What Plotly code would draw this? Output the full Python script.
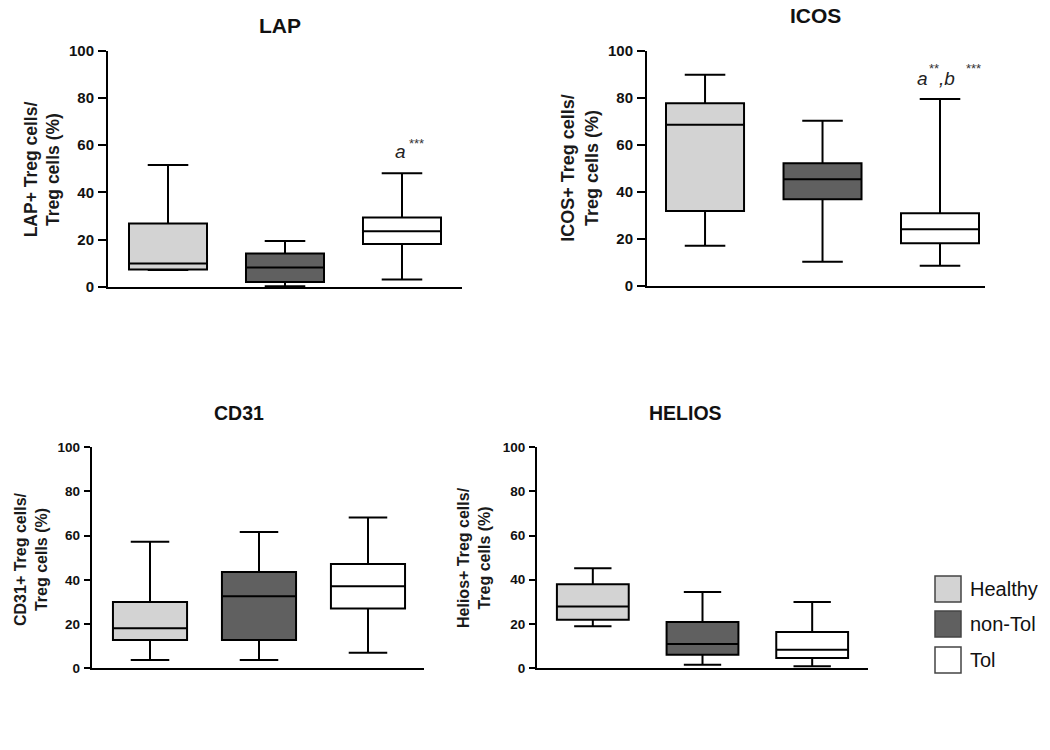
import plotly.graph_objects as go

# ---------------- data ----------------
groups = ["Healthy", "non-Tol", "Tol"]
group_colors = ["#d3d3d3", "#606060", "#ffffff"]

panels = ["LAP", "ICOS", "CD31", "HELIOS"]
y_titles = ["LAP+ Treg cells/<br>Treg cells (%)",
            "ICOS+ Treg cells/<br>Treg cells (%)",
            "CD31+ Treg cells/<br>Treg cells (%)",
            "Helios+ Treg cells/<br>Treg cells (%)"]
y_ticks = [0, 20, 40, 60, 80, 100]

lap_min = [7.2, 0.3, 3.1]
lap_q1 = [7.4, 2.1, 18.2]
lap_med = [9.9, 8.2, 23.6]
lap_q3 = [26.9, 14.1, 29.4]
lap_max = [51.6, 19.4, 48.1]

icos_min = [17.0, 10.2, 8.5]
icos_q1 = [31.8, 36.8, 18.0]
icos_med = [68.5, 45.3, 24.0]
icos_q3 = [77.7, 52.1, 30.8]
icos_max = [89.8, 70.2, 79.5]

cd31_min = [3.8, 3.8, 7.1]
cd31_q1 = [12.8, 12.8, 27.1]
cd31_med = [18.1, 32.6, 37.1]
cd31_q3 = [30.0, 43.6, 47.2]
cd31_max = [57.2, 61.7, 68.2]

helios_min = [18.9, 1.5, 0.75]
helios_q1 = [21.9, 6.0, 4.5]
helios_med = [27.9, 10.9, 8.3]
helios_q3 = [38.0, 20.8, 16.3]
helios_max = [45.2, 34.4, 29.9]

# significance marks of the Tol group (LAP, ICOS)
sig_letters = ["<i>a</i>", "<i>a</i>", "<i>,b</i>"]
sig_stars = ["***", "**", "***"]

stats = [
    (lap_min, lap_q1, lap_med, lap_q3, lap_max),
    (icos_min, icos_q1, icos_med, icos_q3, icos_max),
    (cd31_min, cd31_q1, cd31_med, cd31_q3, cd31_max),
    (helios_min, helios_q1, helios_med, helios_q3, helios_max),
]

# ---------------- layout geometry (target pixels on the 1050x750 picture) ----
W, H = 1050, 750


def px_x(x):
    return x / W


def px_y(t):
    # the captured page is slightly compressed vertically; compensate
    return 1 - ((t - 9.2) / 0.977) / H


# (x_left, x_right, y_top, y_bottom) of each plotting area
areas = [(108, 462, 51, 287), (647, 985, 51, 285.7),
         (91.7, 424, 447.3, 668.3), (537, 868, 447.3, 668)]
x_ranges = [[-0.513, 2.513], [-0.494, 2.383], [-0.535, 2.514], [-0.509, 2.509]]
box_widths = [0.667, 0.664, 0.68, 0.655]
title_pos = [(280, 26, 21), (815, 16, 21), (239, 413, 19.5), (685, 413, 19.5)]
ytitle_pos = [(42.5, 170, 17.5), (580, 168, 18), (31, 559, 16), (474, 557, 16)]
tick_font = [15, 15, 13.5, 13.5]
tick_len = [8, 8, 6, 6]
letter_pos = [(400, 152), (922.5, 78.5), (946.5, 78.5)]
star_pos = [(416.5, 144), (933.5, 68.5), (973.5, 68.5)]

FONT = "Liberation Sans, Arial, sans-serif"

fig = go.Figure()
layout = dict(
    width=W, height=H,
    margin=dict(l=0, r=0, t=0, b=0),
    paper_bgcolor="white", plot_bgcolor="white",
    showlegend=False,
    font=dict(family=FONT, color="#111"),
)
annotations = []
shapes = []

for p, name in enumerate(panels):
    xl, xr, yt, yb = areas[p]
    sfx = "" if p == 0 else str(p + 1)
    mn, q1, md, q3, mx = stats[p]
    for g in range(len(groups)):
        fig.add_trace(go.Box(
            x=[g], q1=[q1[g]], median=[md[g]], q3=[q3[g]],
            lowerfence=[mn[g]], upperfence=[mx[g]],
            width=box_widths[p], whiskerwidth=0.52,
            fillcolor=group_colors[g],
            line=dict(color="black", width=2),
            boxpoints=False, name=groups[g], hoverinfo="skip",
            xaxis="x" + sfx, yaxis="y" + sfx,
        ))
    layout["xaxis" + sfx] = dict(
        domain=[px_x(xl), px_x(xr)], range=x_ranges[p],
        anchor="y" + sfx, showgrid=False, zeroline=False,
        showticklabels=False, ticks="", showline=True,
        linecolor="black", linewidth=2, fixedrange=True,
    )
    layout["yaxis" + sfx] = dict(
        domain=[px_y(yb), px_y(yt)], range=[0, 100],
        anchor="x" + sfx, showgrid=False, zeroline=False,
        tickvals=y_ticks, ticks="outside", ticklen=tick_len[p],
        tickwidth=2, tickcolor="black", showline=True,
        linecolor="black", linewidth=2,
        tickfont=dict(family=FONT, size=tick_font[p], color="#111",
                      weight="bold"),
        ticklabelstandoff=1, fixedrange=True,
    )
    tx, ty, ts = title_pos[p]
    annotations.append(dict(
        text="<b>" + name + "</b>", x=px_x(tx), y=px_y(ty),
        xref="paper", yref="paper", xanchor="center", yanchor="middle",
        showarrow=False, font=dict(family=FONT, size=ts, color="#111"),
    ))
    ax, ay, asz = ytitle_pos[p]
    annotations.append(dict(
        text=y_titles[p], x=px_x(ax), y=px_y(ay), textangle=-90,
        xref="paper", yref="paper", xanchor="center", yanchor="middle",
        showarrow=False,
        font=dict(family=FONT, size=asz, color="#1a1a1a", weight="bold"),
    ))

# significance labels
for i in range(len(sig_letters)):
    lx, ly = letter_pos[i]
    annotations.append(dict(
        text=sig_letters[i], x=px_x(lx), y=px_y(ly),
        xref="paper", yref="paper", xanchor="center", yanchor="middle",
        showarrow=False, font=dict(family=FONT, size=19, color="#222"),
    ))
    sx, sy = star_pos[i]
    annotations.append(dict(
        text=sig_stars[i], x=px_x(sx), y=px_y(sy),
        xref="paper", yref="paper", xanchor="center", yanchor="middle",
        showarrow=False, font=dict(family=FONT, size=13, color="#333"),
    ))

# legend (squares + labels)
leg_tops = [576, 611, 647]
for g in range(len(groups)):
    top = leg_tops[g]
    shapes.append(dict(
        type="rect", xref="paper", yref="paper",
        x0=px_x(935), x1=px_x(961), y0=px_y(top + 26), y1=px_y(top),
        fillcolor=group_colors[g], line=dict(color="#444", width=1.5),
    ))
    annotations.append(dict(
        text=groups[g], x=px_x(968), y=px_y(top + 13),
        xref="paper", yref="paper", xanchor="left", yanchor="middle",
        showarrow=False, font=dict(family=FONT, size=20, color="#111"),
    ))

layout["annotations"] = annotations
layout["shapes"] = shapes
fig.update_layout(**layout)
fig.write_html(
    "out.html",
    config={"displayModeBar": False},
    post_script=(
        "document.documentElement.style.margin='0';"
        "document.body.style.margin='0';"
        "document.body.style.overflow='hidden';"
        "var d=document.getElementById('{plot_id}');"
        "d.style.position='fixed';d.style.top='0px';d.style.left='0px';"
    ),
)
